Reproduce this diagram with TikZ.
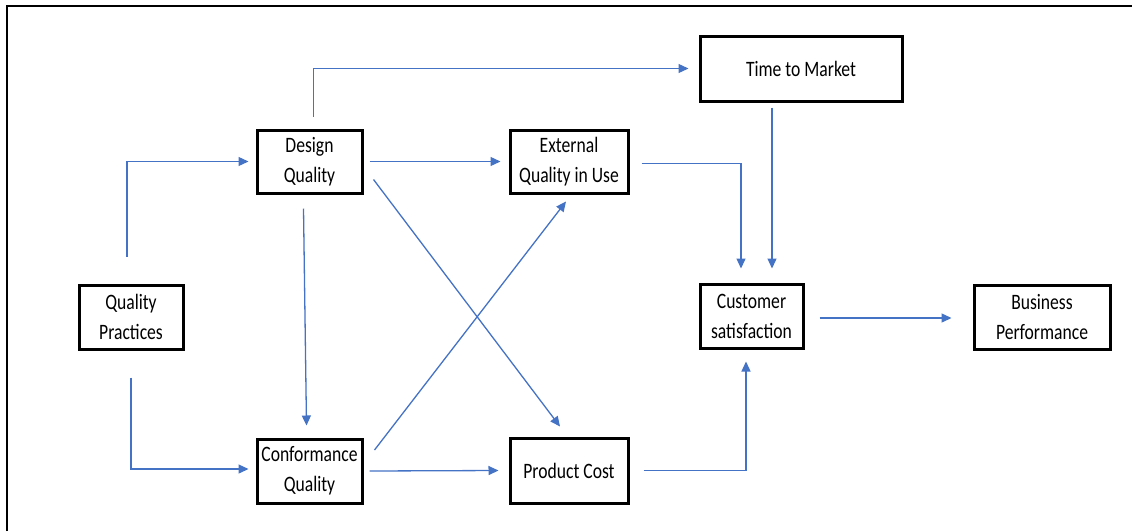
\documentclass[tikz,border=0pt]{standalone}
\usepackage{fontspec}
\setmainfont{Carlito}[FakeStretch=0.8]
\usetikzlibrary{arrows.meta,calc}
\definecolor{link}{HTML}{4472C4}
\begin{document}
\begin{tikzpicture}[x=1pt,y=-1pt,
  box/.style={draw=black,line width=3pt,rectangle,inner sep=0pt,align=center,
    font=\fontsize{22}{30}\selectfont},
  arr/.style={draw=link,line width=1.3pt,-{Triangle[length=10pt,width=9pt]}}]
\useasboundingbox (0,0) rectangle (1132,531);
% outer frame (top and left edges)
\draw[line width=2.5pt] (7,531) -- (7,6) -- (1132,6);

% boxes
\node[box,minimum width=104pt,minimum height=64pt] (qp) at (131,317) {Quality\\Practices};
\node[box,minimum width=105pt,minimum height=63pt] (dq) at (309.5,161.5) {Design\\Quality};
\node[box,minimum width=105pt,minimum height=64pt] (cq) at (309.5,471) {Conformance\\Quality};
\node[box,minimum width=118pt,minimum height=63pt] (eq) at (569,161.5) {External\\Quality in Use};
\node[box,minimum width=118pt,minimum height=65pt] (pc) at (569,470.5) {Product Cost};
\node[box,minimum width=202pt,minimum height=65pt] (tm) at (801,68.5) {Time to Market};
\node[box,minimum width=103pt,minimum height=64pt] (cs) at (751.5,316) {Customer\\satisfaction};
\node[box,minimum width=136pt,minimum height=64pt] (bp) at (1042,317) {Business\\Performance};

% connectors
\draw[arr,shorten >=7pt] ($(qp.north)+(-4,-27)$) |- (dq.west);
\draw[arr,shorten >=7pt] ($(qp.south)+(0,27)$) |- ($(cq.west)+(0,-2)$);
\draw[arr] ($(dq.south)+(-6,14)$) -- ($(cq.north)+(-3,-12)$);
\draw[arr] ($(dq.north)+(4,-12)$) |- ($(tm.west)+(-10,0)$);
\draw[arr] ($(dq.east)+(6,0)$) -- ($(eq.west)+(-8,0)$);
\draw[arr] ($(dq.east)+(10,18)$) -- ($(pc.north)+(-9,-10)$);
\draw[arr] ($(cq.east)+(11,-21)$) -- ($(eq.south)+(-3,7)$);
\draw[arr] ($(cq.east)+(6,0)$) -- ($(pc.west)+(-10,0)$);
\draw[arr] ($(eq.east)+(12,2)$) -| ($(cs.north)+(-10.5,-14)$);
\draw[arr] ($(tm.south)+(-29,5)$) -- ($(cs.north)+(20.5,-14)$);
\draw[arr] ($(pc.east)+(14,0)$) -| ($(cs.south)+(-5.5,12)$);
\draw[arr] ($(cs.east)+(15,2)$) -- ($(bp.west)+(-21,1)$);
\end{tikzpicture}
\end{document}
